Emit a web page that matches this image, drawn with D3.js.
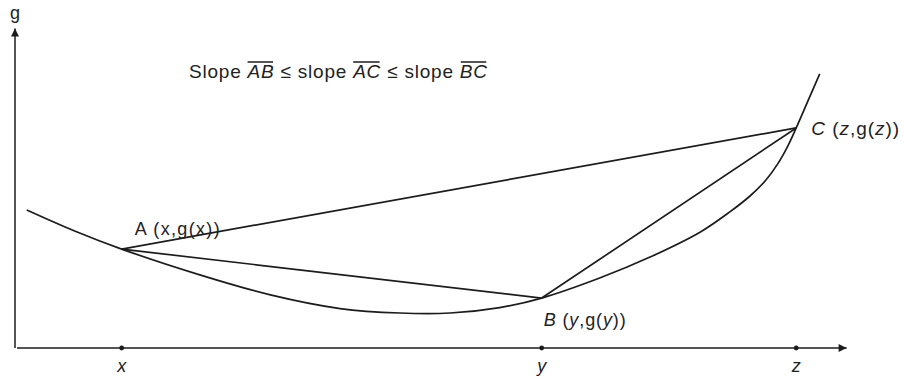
<!DOCTYPE html>
<html>
<head>
<meta charset="utf-8">
<script src="https://cdn.jsdelivr.net/npm/d3@7"></script>
<style>
  body { margin: 0; background: #fff; }
  svg { display: block; }
  text { font-family: "Liberation Sans", Arial, Helvetica, sans-serif; fill: #222; }
</style>
</head>
<body>
<svg id="chart" width="905" height="379"></svg>
<script>
// curve g(t) (x from 0..10, g from 0..10)
var curveX = [0.14, 0.71, 1.27, 2.20, 3.04, 3.87, 4.58, 5.18, 5.77, 6.27, 6.96, 7.56, 8.16, 8.51, 8.75, 8.93, 9.08, 9.20, 9.30, 9.44, 9.58];
var curveG = [4.34, 3.68, 3.11, 2.30, 1.67, 1.24, 1.10, 1.10, 1.27, 1.57, 2.20, 2.86, 3.65, 4.28, 4.78, 5.25, 5.79, 6.35, 6.92, 7.77, 8.62];

var pointNames = ["A", "B", "C"];
var pointX = [1.27, 6.27, 9.30];
var pointG = [3.11, 1.57, 6.92];

var tickLabels = ["x", "y", "z"];

var svg = d3.select("#chart");
var xScale = d3.scaleLinear().domain([0, 10]).range([15, 855]);
var yScale = d3.scaleLinear().domain([0, 10]).range([348, 30]);

var ink = "#1c1c1c";

// arrow marker
var defs = svg.append("defs");
defs.append("marker")
  .attr("id", "arrow")
  .attr("viewBox", "0 0 10 10")
  .attr("refX", 10).attr("refY", 5)
  .attr("markerWidth", 10).attr("markerHeight", 8)
  .attr("markerUnits", "userSpaceOnUse")
  .attr("orient", "auto")
  .append("path")
  .attr("d", "M0,0 L10,5 L0,10 Z")
  .attr("fill", ink);

// axes
var x0 = xScale(0), y0 = yScale(0);
svg.append("line")
  .attr("x1", x0 + 2).attr("y1", y0)
  .attr("x2", xScale(9.9)).attr("y2", y0)
  .attr("stroke", ink).attr("stroke-width", 1.5)
  .attr("marker-end", "url(#arrow)");
svg.append("line")
  .attr("x1", x0).attr("y1", y0)
  .attr("x2", x0).attr("y2", yScale(10.05))
  .attr("stroke", ink).attr("stroke-width", 1.5)
  .attr("marker-end", "url(#arrow)");

svg.append("text")
  .attr("x", x0).attr("y", yScale(10.05) - 9)
  .attr("text-anchor", "middle")
  .attr("font-size", 18)
  .text("g");

// tick dots + labels
var ticks = svg.append("g");
ticks.selectAll("circle")
  .data(pointX)
  .enter().append("circle")
  .attr("cx", function(d) { return xScale(d); })
  .attr("cy", y0)
  .attr("r", 2.4)
  .attr("fill", ink);
ticks.selectAll("text")
  .data(pointX)
  .enter().append("text")
  .attr("x", function(d) { return xScale(d); })
  .attr("y", y0 + 24)
  .attr("text-anchor", "middle")
  .attr("font-size", 18)
  .attr("font-style", "italic")
  .text(function(d, i) { return tickLabels[i]; });

// the curve
var curveData = curveX.map(function(d, i) { return [d, curveG[i]]; });
var line = d3.line()
  .x(function(d) { return xScale(d[0]); })
  .y(function(d) { return yScale(d[1]); })
  .curve(d3.curveCatmullRom.alpha(0.5));

svg.append("path")
  .datum(curveData)
  .attr("d", line)
  .attr("fill", "none")
  .attr("stroke", ink)
  .attr("stroke-width", 1.7);

// chords AB, AC, BC
var pts = pointX.map(function(d, i) { return { name: pointNames[i], x: d, g: pointG[i] }; });
var chords = [[0, 1], [0, 2], [1, 2]];
svg.append("g").selectAll("line")
  .data(chords)
  .enter().append("line")
  .attr("x1", function(d) { return xScale(pts[d[0]].x); })
  .attr("y1", function(d) { return yScale(pts[d[0]].g); })
  .attr("x2", function(d) { return xScale(pts[d[1]].x); })
  .attr("y2", function(d) { return yScale(pts[d[1]].g); })
  .attr("stroke", ink)
  .attr("stroke-width", 1.7);

// point labels
function addLabel(x, y, parts, size, len) {
  var t = svg.append("text").attr("x", x).attr("y", y).attr("font-size", size)
    .attr("textLength", len).attr("lengthAdjust", "spacing");
  parts.forEach(function(p) {
    t.append("tspan")
      .attr("font-style", p[1] ? "italic" : "normal")
      .text(p[0]);
  });
  return t;
}

var A = pts[0], B = pts[1], C = pts[2];
addLabel(xScale(A.x) + 13, yScale(A.g) - 14,
  [["A (x,g(x))", false]], 18, 85);
addLabel(xScale(B.x) + 2, yScale(B.g) + 28,
  [["B", true], [" (", false], ["y", true], [",g(", false], ["y", true], ["))", false]], 18, 82);
addLabel(xScale(C.x) + 15, yScale(C.g) + 7,
  [["C", true], [" (", false], ["z", true], [",g(", false], ["z", true], ["))", false]], 19, 88);

// slope inequality
var slope = svg.append("text").attr("x", 189).attr("y", 78).attr("font-size", 19)
  .attr("textLength", 298).attr("lengthAdjust", "spacing");
var slopeParts = [["Slope ", false], ["AB", true], [" \u2264 slope ", false], ["AC", true], [" \u2264 slope ", false], ["BC", true]];
slopeParts.forEach(function(p) {
  var s = slope.append("tspan")
    .attr("font-style", p[1] ? "italic" : "normal")
    .text(p[0]);
  if (p[1]) s.classed("bar", true);
});
slope.selectAll("tspan.bar").each(function() {
  var b = this.getBBox();
  svg.append("line")
    .attr("x1", b.x + 1).attr("x2", b.x + b.width - 1)
    .attr("y1", b.y + 1).attr("y2", b.y + 1)
    .attr("stroke", ink).attr("stroke-width", 1.5);
});
</script>
</body>
</html>
